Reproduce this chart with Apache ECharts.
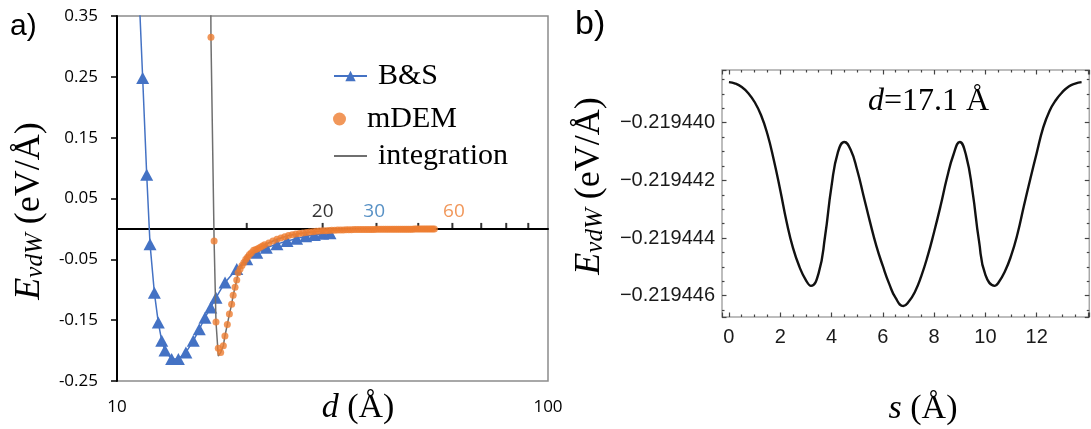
<!DOCTYPE html>
<html>
<head>
<meta charset="utf-8">
<script src="https://cdn.jsdelivr.net/npm/echarts@6/dist/echarts.min.js"></script>
<style>
  html, body { margin: 0; padding: 0; background: #ffffff; }
  #chart { width: 1091px; height: 429px; }
</style>
</head>
<body>
<div id="chart"></div>
<script>
// ---------- Panel a: vdW energy per unit length vs. separation d (log axis) ----------
// B&S model (triangles joined by a line)
const bsD = [11.2, 11.47, 11.72, 11.93, 12.21, 12.47, 12.70, 12.92, 13.39, 13.88, 14.45, 15.03,
             15.52, 16.0, 16.5, 16.97, 17.81, 18.96, 20.0, 21.1, 22.2, 23.5, 24.8, 26.1,
             27.4, 28.7, 30.0, 31.2];
const bsE = [0.42, 0.248, 0.089, -0.025, -0.105, -0.154, -0.184, -0.200, -0.214, -0.214, -0.203, -0.184,
             -0.165, -0.146, -0.129, -0.113, -0.088, -0.066, -0.050, -0.039, -0.031, -0.025, -0.020, -0.016,
             -0.012, -0.010, -0.008, -0.007];

// mDEM model (dots)
const mdemD = [16.52, 16.8, 16.97, 17.18, 17.4, 17.65, 17.8, 18.03, 18.23, 18.45, 18.6, 18.79, 18.96, 19.1,
               19.3, 19.5, 19.7, 19.9, 20.1, 20.3, 20.5, 20.75, 21, 21.25, 21.5, 21.75, 22, 22.5,
               23, 23.5, 24, 24.5, 25, 25.5, 26, 26.5, 27, 27.5, 28, 28.5, 29, 29.5,
               30, 30.5, 31, 31.5, 32, 32.5, 33, 33.5, 34, 34.5, 35, 35.5, 36, 36.5,
               37, 37.5, 38, 38.5, 39, 39.5, 40, 40.5, 41, 41.5, 42, 42.5, 43, 43.5,
               44, 44.5, 45, 45.5, 46, 46.5, 47, 47.5, 48, 48.5, 49, 49.5, 50, 50.5,
               51, 51.5, 52, 52.5, 53, 53.5, 54, 54.5];
const mdemE = [0.315, -0.020, -0.153, -0.196, -0.203, -0.192, -0.176, -0.157, -0.140, -0.124, -0.109, -0.096, -0.084, -0.072,
               -0.066, -0.060, -0.055, -0.050, -0.046, -0.042, -0.039, -0.035, -0.034, -0.032, -0.030, -0.028, -0.026, -0.023,
               -0.020, -0.017, -0.015, -0.013, -0.011, -0.0095, -0.0085, -0.0075, -0.0066, -0.0058, -0.0051, -0.0045, -0.0040, -0.0036,
               -0.0032, -0.0029, -0.0026, -0.0023, -0.0021, -0.0019, -0.0017, -0.0016, -0.0014, -0.0013, -0.0012, -0.0011, -0.0011, -0.0010,
               -0.0010, -0.0009, -0.0009, -0.0008, -0.0008, -0.0008, -0.0007, -0.0007, -0.0007, -0.0006, -0.0006, -0.0006, -0.0006, -0.0005,
               -0.0005, -0.0005, -0.0005, -0.0005, -0.0004, -0.0004, -0.0004, -0.0004, -0.0004, -0.0004, -0.0003, -0.0003, -0.0003, -0.0003,
               -0.0003, -0.0003, -0.0003, -0.0003, -0.0002, -0.0002, -0.0002, -0.0002];

// direct integration (thin grey line)
const intD = [16.3, 16.52, 16.8, 16.97, 17.18, 17.4, 17.65, 17.8, 18.03, 18.23, 18.45, 18.6, 18.79, 18.96,
              19.1, 19.5, 20, 21, 22, 23.5, 25, 27, 30, 35, 40, 50, 54];
const intE = [1.2, 0.315, -0.020, -0.153, -0.209, -0.203, -0.192, -0.176, -0.157, -0.140, -0.124, -0.109, -0.096, -0.084,
              -0.072, -0.060, -0.047, -0.034, -0.026, -0.017, -0.011, -0.0066, -0.0032, -0.0012, -0.0007, -0.0003, -0.0002];

// minor tick positions on the E = 0 line, and the range labels above it
const zeroLineTicks = [20, 30, 40, 50, 60, 70, 80, 90];
const rangeLabels = ['20', '30', '60'];
const rangeLabelAt = [30, 39.5, 60.5];
const rangeLabelColors = ['#000000', '#2E75B6', '#ED7D31'];

// ---------- Panel b: energy vs. sliding distance s at d = 17.1 Å ----------
const slideS = [0, 0.25, 0.5, 0.75, 1.0, 1.25, 1.5, 1.75, 2.0, 2.25, 2.5, 2.75, 3.0, 3.2,
                3.5, 3.75, 4.0, 4.25, 4.5, 4.75, 5.0, 5.25, 5.5, 5.75, 6.0, 6.25, 6.5, 6.8,
                7.0, 7.25, 7.5, 7.75, 8.0, 8.25, 8.5, 8.75, 9.0, 9.25, 9.5, 9.75, 10.0, 10.37,
                10.5, 10.75, 11.0, 11.25, 11.5, 11.75, 12.0, 12.25, 12.5, 12.75, 13.0, 13.25, 13.5, 13.75];
const slideE = [-0.21943859, -0.21943864, -0.21943876, -0.21943897, -0.21943928, -0.21943973, -0.21944039,
                -0.21944129, -0.21944233, -0.21944344, -0.21944435, -0.21944500, -0.21944546, -0.21944566,
                -0.21944521, -0.21944393, -0.21944220, -0.21944102, -0.21944067, -0.21944095, -0.21944164,
                -0.21944254, -0.21944344, -0.21944428, -0.21944497, -0.21944559, -0.21944608, -0.21944636,
                -0.21944622, -0.21944587, -0.21944532, -0.21944462, -0.21944379, -0.21944289, -0.21944192,
                -0.21944112, -0.21944067, -0.21944115, -0.21944240, -0.21944410, -0.21944528, -0.21944566,
                -0.21944556, -0.21944518, -0.21944462, -0.21944386, -0.21944289, -0.21944195, -0.21944105,
                -0.21944018, -0.21943959, -0.21943921, -0.21943894, -0.21943874, -0.21943864, -0.21943859];

const zip = (xs, ys) => xs.map((x, i) => [x, ys[i]]);

const SERIF = 'Liberation Serif';
const SANS = 'Liberation Sans';
const LABEL_SANS = 'Open Sans';

const chart = echarts.init(document.getElementById('chart'), null, { renderer: 'canvas' });

const legendCommon = {
  orient: 'vertical',
  left: 333,
  padding: 0,
  itemWidth: 33,
  itemHeight: 13,
  selectedMode: false,
  textStyle: { fontFamily: SERIF, fontSize: 30, lineHeight: 30, color: '#000', padding: [0, 0, 0, 6] }
};

const sLabel = v => {
  if (v < -0.1 || v > 13) return '';
  return String(Math.round(v));
};
const eLabelB = v => {
  const k = Math.round(v / 2e-6);
  if (Math.abs(v - k * 2e-6) > 1e-10) return '';
  return '\u2212' + Math.abs(k * 2e-6).toFixed(6);
};

const frameTick = { show: true, inside: true, length: 4.5, lineStyle: { color: '#444', width: 1.2 } };
const frameMinor = { show: true, splitNumber: 4, length: 2.5, lineStyle: { color: '#444', width: 1.2 } };

const option = {
  animation: false,
  backgroundColor: '#ffffff',
  grid: [
    { left: 117, top: 16, width: 431, height: 365, show: true, borderColor: '#8c8c8c', borderWidth: 1.5 },
    { left: 722, top: 70, right: -2, bottom: 112, show: true, borderColor: '#a8a8a8', borderWidth: 1.5 }
  ],
  legend: [
    Object.assign({}, legendCommon, { top: 61, data: [{ name: 'B&S' }] }),
    Object.assign({}, legendCommon, { top: 104, data: [{ name: 'mDEM' }] }),
    Object.assign({}, legendCommon, { top: 141, data: [{ name: 'integration', itemStyle: { opacity: 0 } }] })
  ],
  xAxis: [
    { // panel a: tick labels along the bottom
      type: 'log', logBase: 10, min: 10, max: 100, gridIndex: 0, position: 'bottom',
      axisLine: { show: false, onZero: false },
      axisTick: { show: false },
      splitLine: { show: false },
      axisLabel: { margin: 18, fontFamily: LABEL_SANS, fontSize: 17, color: '#000' }
    },
    { // panel a: axis line drawn through E = 0
      type: 'log', logBase: 10, min: 10, max: 100, gridIndex: 0, position: 'bottom',
      axisLine: { show: true, onZero: true, lineStyle: { color: '#000', width: 2 } },
      axisTick: { show: false },
      axisLabel: { show: false },
      splitLine: { show: false }
    },
    { // panel b: bottom frame
      type: 'value', gridIndex: 1, min: -0.27, max: 14.05, splitNumber: 7, position: 'bottom',
      axisLine: { show: false, onZero: false },
      axisTick: frameTick, minorTick: frameMinor,
      splitLine: { show: false },
      axisLabel: { margin: 10, fontFamily: SANS, fontSize: 20, color: '#1a1a1a', formatter: sLabel,
                   showMinLabel: false, showMaxLabel: false }
    },
    { // panel b: top frame ticks
      type: 'value', gridIndex: 1, min: -0.27, max: 14.05, splitNumber: 7, position: 'top',
      axisLine: { show: false, onZero: false },
      axisTick: frameTick, minorTick: frameMinor,
      splitLine: { show: false },
      axisLabel: { show: false }
    }
  ],
  yAxis: [
    { // panel a
      type: 'value', gridIndex: 0, min: -0.25, max: 0.35, interval: 0.1,
      axisLine: { show: true, onZero: false, lineStyle: { color: '#000', width: 2 } },
      axisTick: { show: true, length: 6, lineStyle: { color: '#000', width: 1.5 } },
      splitLine: { show: false },
      axisLabel: { margin: 19, fontFamily: LABEL_SANS, fontSize: 17, color: '#000',
                   formatter: v => v.toFixed(2) }
    },
    { // panel b: left frame
      type: 'value', gridIndex: 1, min: -0.21944674, max: -0.21943817, splitNumber: 4, position: 'left',
      axisLine: { show: false, onZero: false },
      axisTick: frameTick, minorTick: frameMinor,
      splitLine: { show: false },
      axisLabel: { margin: 7, fontFamily: SANS, fontSize: 20, color: '#1a1a1a', formatter: eLabelB,
                   showMinLabel: false, showMaxLabel: false }
    },
    { // panel b: right frame ticks
      type: 'value', gridIndex: 1, min: -0.21944674, max: -0.21943817, splitNumber: 4, position: 'right',
      axisLine: { show: false, onZero: false },
      axisTick: frameTick, minorTick: frameMinor,
      splitLine: { show: false },
      axisLabel: { show: false }
    }
  ],
  series: [
    {
      name: 'zero-line ticks', type: 'scatter', xAxisIndex: 1, yAxisIndex: 0, silent: true, z: 1,
      symbol: 'rect', symbolSize: [2, 6], symbolOffset: [0, -3],
      itemStyle: { color: '#000' },
      data: zeroLineTicks.map(d => [d, 0])
    },
    {
      name: 'B&S', type: 'line', xAxisIndex: 0, yAxisIndex: 0, z: 2,
      symbol: 'triangle', symbolSize: [13, 12], showAllSymbol: true,
      lineStyle: { color: '#4472C4', width: 1.5 },
      itemStyle: { color: '#4472C4' },
      data: zip(bsD, bsE)
    },
    {
      name: 'integration', type: 'line', xAxisIndex: 0, yAxisIndex: 0, z: 3,
      symbol: 'none',
      lineStyle: { color: '#6f6f6f', width: 1.5 },
      itemStyle: { color: '#6f6f6f' },
      data: zip(intD, intE)
    },
    {
      name: 'mDEM', type: 'scatter', xAxisIndex: 0, yAxisIndex: 0, z: 4,
      symbol: 'circle', symbolSize: 7,
      itemStyle: { color: '#ED7D31' },
      data: zip(mdemD, mdemE)
    },
    {
      name: 'range labels', type: 'scatter', xAxisIndex: 0, yAxisIndex: 0, silent: true, z: 5,
      symbolSize: 0,
      data: rangeLabels.map((t, i) => ({
        value: [rangeLabelAt[i], 0], name: t,
        label: { color: rangeLabelColors[i] }
      })),
      label: { show: true, position: 'top', distance: 8, formatter: p => p.name,
               fontFamily: LABEL_SANS, fontSize: 19 }
    },
    {
      name: 'sliding', type: 'line', xAxisIndex: 2, yAxisIndex: 1,
      symbol: 'none', smooth: 0.5,
      lineStyle: { color: '#111', width: 2.4 },
      data: zip(slideS, slideE)
    }
  ],
  graphic: [
    { type: 'text', x: 10, y: 27,
      style: { text: 'a)', fontFamily: SANS, fontSize: 30, fill: '#000', verticalAlign: 'middle' } },
    { type: 'text', x: 575, y: 25,
      style: { text: 'b)', fontFamily: SANS, fontSize: 34, fill: '#000', verticalAlign: 'middle' } },
    { type: 'text', x: 868, y: 102,
      style: { text: '{i|d}{n|=17.1 Å}', align: 'left', verticalAlign: 'middle',
               rich: { i: { fontFamily: SERIF, fontStyle: 'italic', fontSize: 32, fill: '#000' },
                       n: { fontFamily: SERIF, fontSize: 32, fill: '#000' } } } },
    // x-axis titles
    { type: 'text', x: 358, y: 408,
      style: { text: '{i|d}{n| (Å)}', align: 'center', verticalAlign: 'middle',
               rich: { i: { fontFamily: SERIF, fontStyle: 'italic', fontSize: 34, fill: '#000' },
                       n: { fontFamily: SERIF, fontSize: 34, fill: '#000' } } } },
    { type: 'text', x: 923, y: 409,
      style: { text: '{i|s}{n| (Å)}', align: 'center', verticalAlign: 'middle',
               rich: { i: { fontFamily: SERIF, fontStyle: 'italic', fontSize: 34, fill: '#000' },
                       n: { fontFamily: SERIF, fontSize: 34, fill: '#000' } } } },
    // y-axis titles
    { type: 'text', x: 30, y: 211, rotation: Math.PI / 2,
      style: { text: '{e|E}{s|vdW}{n| (eV/Å)}', align: 'center', verticalAlign: 'middle',
               rich: { e: { fontFamily: SERIF, fontStyle: 'italic', fontSize: 36, lineHeight: 36, verticalAlign: 'bottom', fill: '#000' },
                       s: { fontFamily: SERIF, fontStyle: 'italic', fontSize: 25, lineHeight: 14, verticalAlign: 'bottom', fill: '#000' },
                       n: { fontFamily: SERIF, fontSize: 36, lineHeight: 36, verticalAlign: 'bottom', fill: '#000' } } } },
    { type: 'text', x: 590, y: 186, rotation: Math.PI / 2,
      style: { text: '{e|E}{s|vdW}{n| (eV/Å)}', align: 'center', verticalAlign: 'middle',
               rich: { e: { fontFamily: SERIF, fontStyle: 'italic', fontSize: 36, lineHeight: 36, verticalAlign: 'bottom', fill: '#000' },
                       s: { fontFamily: SERIF, fontStyle: 'italic', fontSize: 25, lineHeight: 14, verticalAlign: 'bottom', fill: '#000' },
                       n: { fontFamily: SERIF, fontSize: 36, lineHeight: 36, verticalAlign: 'bottom', fill: '#000' } } } }
  ]
};

chart.setOption(option);
</script>
</body>
</html>
